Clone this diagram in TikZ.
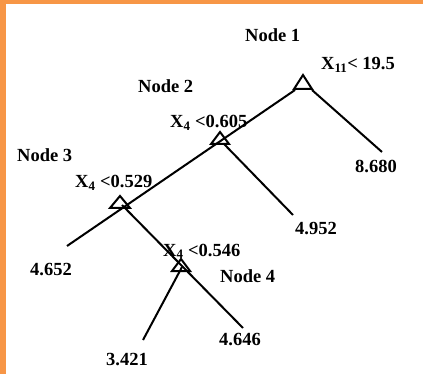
\documentclass[tikz,border=0pt]{standalone}
\usepackage{fontspec}
\setmainfont{Liberation Serif}
\definecolor{framecol}{HTML}{F79646}
\begin{document}
\begin{tikzpicture}[x=1pt,y=-1pt,
  lbl/.style={anchor=base west, inner sep=0pt, font=\fontsize{18.5}{22}\selectfont\bfseries},
  branch/.style={line width=2pt},
  tri/.style={line width=2pt, line join=miter}]
\useasboundingbox (0,0) rectangle (423,374);
\fill[white] (0,0) rectangle (423,374);
\fill[framecol] (0,0) rectangle (6,374);
\fill[framecol] (0,0) rectangle (423,4);
% triangle apexes
\coordinate (t1) at (303,75);
\coordinate (t2) at (220,132);
\coordinate (t3) at (120,196);
\coordinate (t4) at (181,259);
% branch points
\coordinate (n1L) at (295,90);
\coordinate (n1R) at (312,90);
\coordinate (n2R) at (224,144);
\coordinate (n3R) at (122,205);
\coordinate (n4c) at (182,267);
% leaf ends
\coordinate (l8680) at (382,152);
\coordinate (l4952) at (293,215);
\coordinate (l4652) at (67,246);
\coordinate (l4646) at (243,328);
\coordinate (l3421) at (143,340);
% branches
\draw[branch] (l4652) -- (n1L);
\draw[branch] (n1R) -- (l8680);
\draw[branch] (n2R) -- (l4952);
\draw[branch] (n3R) -- (l4646);
\draw[branch] (n4c) -- (l3421);
% triangles
\draw[tri] (t1) -- ++(9,14) -- ++(-18,0) -- cycle;
\draw[tri] (t2) -- ++(9,12) -- ++(-18,0) -- cycle;
\draw[tri] (t3) -- ++(10,12) -- ++(-20,0) -- cycle;
\draw[tri] (t4) -- ++(9,12) -- ++(-18,0) -- cycle;
% labels
\node[lbl] (node1) at (245,42) {Node 1};
\node[lbl] (s1) at (321,70) {X\textsubscript{11}< 19.5};
\node[lbl] (node2) at (138,93) {Node 2};
\node[lbl] (s2) at (170,128) {X\textsubscript{4} <0.605};
\node[lbl] (node3) at (17,162) {Node 3};
\node[lbl] (s3) at (75,188) {X\textsubscript{4} <0.529};
\node[lbl] (s4) at (163,256) {X\textsubscript{4} <0.546};
\node[lbl] (node4) at (220,282) {Node 4};
\node[lbl] (v8680) at (355,173) {8.680};
\node[lbl] (v4952) at (295,235) {4.952};
\node[lbl] (v4652) at (30,275) {4.652};
\node[lbl] (v4646) at (219,345) {4.646};
\node[lbl] (v3421) at (106,365) {3.421};
\end{tikzpicture}
\end{document}
